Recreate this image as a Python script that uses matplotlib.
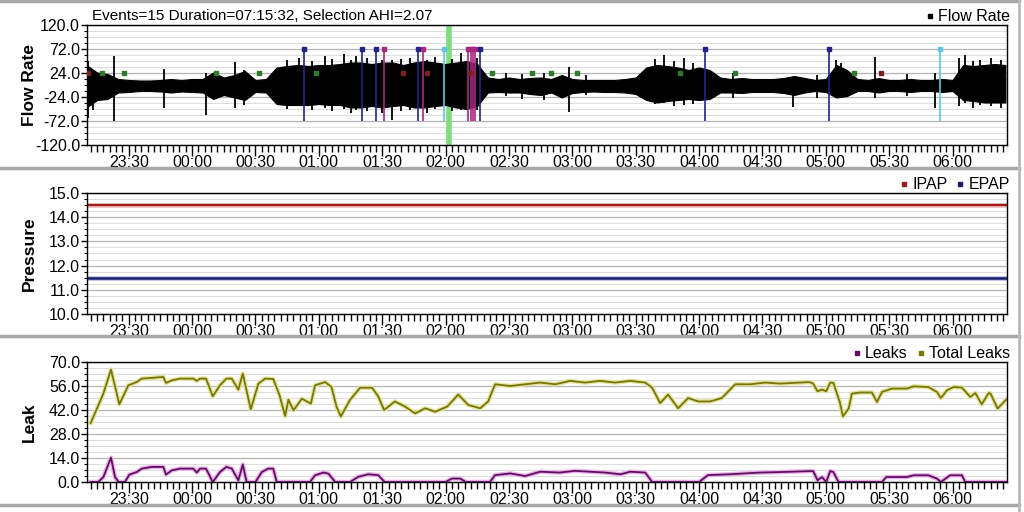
import numpy as np
import matplotlib
matplotlib.use("Agg")
import matplotlib.pyplot as plt
from matplotlib.lines import Line2D
from matplotlib.ticker import FixedLocator, MultipleLocator, FormatStrFormatter

plt.rcParams['font.family'] = ['Liberation Sans', 'DejaVu Sans']

# time is in hours after midnight (23:30 -> -0.5)
t_start = -0.8292
t_end = 6.4297
tick_labels = ["23:30", "00:00", "00:30", "01:00", "01:30", "02:00", "02:30",
               "03:00", "03:30", "04:00", "04:30", "05:00", "05:30", "06:00"]
tick_hours = [-0.5, 0.0, 0.5, 1.0, 1.5, 2.0, 2.5, 3.0, 3.5, 4.0, 4.5, 5.0, 5.5, 6.0]
flow_ticks = [-120, -72, -24, 24, 72, 120]

# flow rate envelope, one reading every 5 minutes from 23:10
flow_upper = [40, 25, 22, 12, 10, 9, 9, 10, 12, 10, 12, 12, 25, 15, 20, 28, 10, 12,
              35, 38, 40, 38, 40, 40, 42, 45, 45, 42, 45, 45, 40, 45, 48, 45, 42, 45,
              48, 42, 15, 12, 15, 12, 14, 15, 12, 20, 12, 10, 10, 10, 10, 12, 15, 35,
              40, 38, 35, 30, 35, 30, 15, 12, 14, 12, 12, 12, 14, 18, 14, 10, 12, 40,
              30, 12, 10, 14, 10, 10, 12, 10, 10, 12, 10, 40, 38, 40, 42, 40]
flow_lower = [-45, -30, -28, -15, -14, -12, -12, -13, -15, -13, -14, -15, -28, -20,
              -25, -30, -14, -15, -38, -40, -40, -40, -38, -40, -40, -45, -45, -42,
              -45, -42, -40, -45, -45, -42, -40, -45, -48, -42, -15, -14, -15, -15,
              -18, -20, -15, -25, -16, -14, -13, -14, -14, -15, -18, -30, -35, -32,
              -30, -28, -30, -28, -15, -15, -16, -14, -14, -14, -16, -20, -15, -12,
              -14, -25, -22, -12, -12, -15, -12, -12, -14, -12, -12, -14, -12, -30,
              -32, -35, -35, -35]
flow_t = -0.8333 + np.arange(len(flow_upper)) / 12.0

# single breaths that stick out of the band: (hour, top, bottom)
spike_t = [-0.821, -0.78, -0.616, -0.221, 0.108, 0.339, 0.41, 0.75, 0.84, 0.95,
           1.045, 1.1, 1.195, 1.25, 1.29, 1.38, 1.5, 1.58, 1.65, 1.72, 1.85, 1.92,
           2.05, 2.12, 2.25, 2.48, 2.6, 2.78, 2.97, 3.11, 3.65, 3.72, 3.8, 3.88,
           3.95, 4.27, 4.74, 4.93, 5.08, 5.12, 5.385, 5.64, 5.86, 6.05, 6.10, 6.16,
           6.22, 6.3, 6.38]
spike_top = [48, 30, 58, 32, 25, 47, 30, 50, 55, 48, 58, 52, 62, 50, 58, 55, 50, 50,
             52, 55, 50, 57, 52, 64, 55, 25, 22, 25, 37, 20, 52, 60, 48, 55, 45, 25,
             15, 20, 50, 45, 57, 22, 25, 55, 60, 48, 50, 55, 50]
spike_bot = [-65, -50, -72, -46, -60, -45, -40, -48, -40, -50, -45, -52, -48, -55,
             -50, -52, -55, -70, -52, -50, -55, -48, -52, -50, -50, -22, -28, -30,
             -53, -20, -38, -35, -42, -40, -38, -25, -43, -25, -25, -20, -25, -22,
             -46, -42, -35, -45, -40, -42, -46]

# events (hour, kind)
event_t = [0.884, 1.339, 1.454, 1.515, 1.786, 1.818, 1.991, 2.173, 2.202, 2.22,
           2.236, 2.273, 4.048, 5.022, 5.898]
event_kind = ["OA", "OA", "OA", "H", "OA", "H", "CA", "H", "H", "H", "H", "OA",
              "OA", "OA", "CA"]
event_colors = {"OA": "#23238a", "H": "#a8287e", "CA": "#5cc6e4"}
flag_green_t = [-0.711, -0.537, 0.187, 0.531, 0.978, 2.37, 2.68, 2.83, 3.036, 3.85,
                4.285, 5.225]
flag_red_t = [-0.819, 1.665, 1.852, 2.194, 5.438]
selection_t = 2.03

# pressure
ipap = 14.5
epap = 11.5

# leaks
total_t = [-0.80, -0.74, -0.70, -0.64, -0.574, -0.503, -0.437, -0.397, -0.29, -0.227,
           -0.206, -0.16, -0.095, 0.01, 0.037, 0.063, 0.11, 0.163, 0.22, 0.27, 0.313,
           0.365, 0.40, 0.463, 0.523, 0.576, 0.64, 0.69, 0.734, 0.76, 0.80, 0.866,
           0.937, 0.97, 1.05, 1.10, 1.14, 1.174, 1.247, 1.326, 1.42, 1.468, 1.515,
           1.60, 1.68, 1.76, 1.839, 1.918, 2.013, 2.10, 2.178, 2.273, 2.336, 2.391,
           2.51, 2.628, 2.747, 2.865, 2.983, 3.10, 3.22, 3.338, 3.457, 3.575, 3.63,
           3.693, 3.756, 3.835, 3.914, 3.993, 4.088, 4.18, 4.285, 4.403, 4.52, 4.64,
           4.87, 4.90, 4.935, 4.97, 5.003, 5.035, 5.06, 5.11, 5.135, 5.18, 5.206,
           5.272, 5.364, 5.404, 5.443, 5.522, 5.64, 5.693, 5.81, 5.877, 5.908, 5.956,
           6.008, 6.074, 6.14, 6.18, 6.23, 6.285, 6.30, 6.356, 6.425]
total_leak = [34.4, 44.7, 51.6, 65.6, 45.3, 56.4, 58.3, 60.3, 60.9, 61.3, 57.8, 59.3,
              60.3, 60.3, 59.0, 60.3, 60.3, 50.0, 56.4, 60.3, 60.3, 53.9, 63.2, 42.4,
              57.4, 60.3, 60.1, 50.6, 38.5, 48.0, 41.8, 48.6, 45.7, 56.4, 58.3, 55.4,
              43.8, 38.3, 48.0, 55.0, 55.0, 50.0, 42.0, 47.0, 44.0, 40.0, 43.0, 41.0,
              44.0, 51.0, 45.0, 43.0, 47.0, 57.0, 56.0, 57.0, 58.0, 57.0, 59.0, 58.0,
              59.0, 58.0, 59.0, 58.0, 55.0, 46.0, 51.0, 43.0, 49.0, 47.0, 47.0, 49.0,
              57.0, 57.0, 58.0, 57.4, 58.3, 57.4, 52.9, 53.9, 52.9, 58.0, 57.8, 46.7,
              38.3, 42.8, 51.6, 52.2, 52.2, 46.7, 52.5, 54.5, 54.5, 55.8, 55.4, 52.5,
              49.0, 53.5, 55.4, 55.1, 49.6, 51.9, 45.3, 51.9, 51.6, 42.8, 48.2]
leaks_t = [-0.80, -0.74, -0.70, -0.64, -0.608, -0.58, -0.53, -0.495, -0.437, -0.397,
           -0.318, -0.227, -0.206, -0.16, -0.095, 0.01, 0.037, 0.063, 0.11, 0.163,
           0.22, 0.27, 0.313, 0.365, 0.40, 0.43, 0.50, 0.55, 0.60, 0.64, 0.668, 0.93,
           0.97, 1.036, 1.075, 1.13, 1.247, 1.31, 1.39, 1.468, 1.52, 2.0, 2.05, 2.115,
           2.16, 2.35, 2.39, 2.51, 2.628, 2.747, 2.9, 3.02, 3.14, 3.26, 3.38, 3.457,
           3.575, 3.63, 4.0, 4.07, 4.24, 4.48, 4.64, 4.90, 4.935, 4.97, 5.003, 5.035,
           5.06, 5.10, 5.443, 5.477, 5.64, 5.693, 5.81, 5.877, 5.908, 5.98, 6.074,
           6.10, 6.425]
leaks = [0, 0, 2.9, 14.2, 2.9, 0, 0, 4.3, 5.8, 7.8, 8.8, 8.8, 4.3, 6.8, 7.8, 7.8,
         5.5, 7.8, 7.8, 0, 5.8, 8.8, 7.8, 1.0, 10.2, 0, 0, 5.8, 7.8, 7.8, 0, 0, 3.9,
         5.5, 4.9, 0, 0, 3.0, 4.5, 4.0, 0, 0, 2.0, 2.0, 0, 0, 4.0, 5.0, 3.5, 6.0, 5.5,
         6.5, 6.0, 5.5, 4.5, 6.0, 5.5, 0, 0, 4.0, 4.5, 5.5, 5.8, 6.4, 1.0, 2.9, 0,
         6.4, 5.8, 0, 0, 2.9, 2.9, 3.9, 3.9, 2.0, 0, 3.9, 3.9, 0, 0]

W, H = 1024, 512
fig = plt.figure(figsize=(W / 100, H / 100), dpi=100)


def box(l, t, r, b):
    return [l / W, 1 - b / H, (r - l) / W, (b - t) / H]


ax1 = fig.add_axes(box(87, 25, 1007, 145))
ax2 = fig.add_axes(box(87, 193, 1007, 314))
ax3 = fig.add_axes(box(87, 362, 1007, 482))


def style(ax, lo, hi, step, label, major=None):
    ax.set_xlim(t_start, t_end)
    ax.set_ylim(lo, hi)
    ax.xaxis.set_major_locator(FixedLocator(tick_hours))
    ax.set_xticklabels(tick_labels)
    ax.xaxis.set_minor_locator(MultipleLocator(0.05))
    if major is None:
        ax.yaxis.set_major_locator(MultipleLocator(step))
    else:
        ax.yaxis.set_major_locator(FixedLocator(major))
    ax.yaxis.set_minor_locator(MultipleLocator(step / 4))
    ax.yaxis.set_major_formatter(FormatStrFormatter('%.1f'))
    ax.grid(True, which='major', axis='y', color='#b4b4b4', lw=0.9)
    ax.grid(True, which='minor', axis='y', color='#dedede', lw=0.8)
    ax.set_axisbelow(True)
    ax.tick_params(axis='x', which='major', length=8, width=1, pad=-1, labelsize=11.5)
    ax.tick_params(axis='x', which='minor', length=5, width=1)
    ax.tick_params(axis='y', which='major', length=4, width=1, pad=1, labelsize=11.5)
    ax.tick_params(axis='y', which='minor', length=2.5, width=0.8)
    for s in ax.spines.values():
        s.set_color('black')
        s.set_linewidth(1)
    ax.set_ylabel(label, fontsize=12.5, fontweight='bold')
    ax.yaxis.set_label_coords(-50 / 920, 0.5)


style(ax1, -120, 120, 48, 'Flow Rate', major=flow_ticks)
style(ax2, 10, 15, 1, 'Pressure')
style(ax3, 0, 70, 14, 'Leak')

# flow rate
ax1.fill_between(flow_t, flow_lower, flow_upper, color='black', lw=0.8, zorder=2)
ax1.vlines(spike_t, spike_bot, spike_top, color='black', lw=1.3, zorder=2)
ax1.axvline(selection_t, color='#7fdc7f', lw=4, zorder=1.5)
for t, k in zip(event_t, event_kind):
    ax1.vlines(t, -72, 72, color=event_colors[k], lw=1.2, zorder=3)
    ax1.plot(t, 72, 's', color=event_colors[k], ms=3.5, zorder=4)
ax1.plot(flag_green_t, [24] * len(flag_green_t), 's', color='#2e7a2e', ms=3, zorder=4)
ax1.plot(flag_red_t, [24] * len(flag_red_t), 's', color='#7a2020', ms=3, zorder=4)

# pressure
ax2.axhline(ipap, color='#f0c0c0', lw=3.5)
ax2.axhline(ipap, color='#a01c1c', lw=1.6)
ax2.axhline(epap, color='#c0c0e8', lw=3.5)
ax2.axhline(epap, color='#1c1c6c', lw=1.8)

# leaks
ax3.plot(total_t, total_leak, color='#e4e49a', lw=3.2, zorder=2)
ax3.plot(total_t, total_leak, color='#76760e', lw=1.3, zorder=3)
ax3.plot(leaks_t, leaks, color='#eab0ea', lw=3.2, zorder=2)
ax3.plot(leaks_t, leaks, color='#5e105e', lw=1.3, zorder=3)


def legend(ax, names, colors):
    handles = [Line2D([], [], ls='', marker='s', ms=3, color=c) for c in colors]
    ax.legend(handles, names, loc='lower right', bbox_to_anchor=(1.003, 1.005),
              frameon=False, ncol=len(names), fontsize=11.5, handlelength=0.6,
              handletextpad=0.2, columnspacing=0.5, borderpad=0, borderaxespad=0)


legend(ax1, ['Flow Rate'], ['black'])
legend(ax2, ['IPAP', 'EPAP'], ['#a01c1c', '#1c1c6c'])
legend(ax3, ['Leaks', 'Total Leaks'], ['#5e105e', '#76760e'])

fig.text(92 / W, 1 - 16 / H, 'Events=15 Duration=07:15:32, Selection AHI=2.07',
         fontsize=11, va='center', ha='left')

# panel separators
for y in [1, 168, 336, 505]:
    fig.add_artist(Line2D([0, 1019 / W], [1 - y / H] * 2, color='#a8a8a8', lw=2.5,
                          transform=fig.transFigure))
fig.add_artist(Line2D([1019 / W] * 2, [0, 1], color='#b8b8b8', lw=2,
                      transform=fig.transFigure))

fig.savefig('out.png', dpi=100, facecolor='white')
